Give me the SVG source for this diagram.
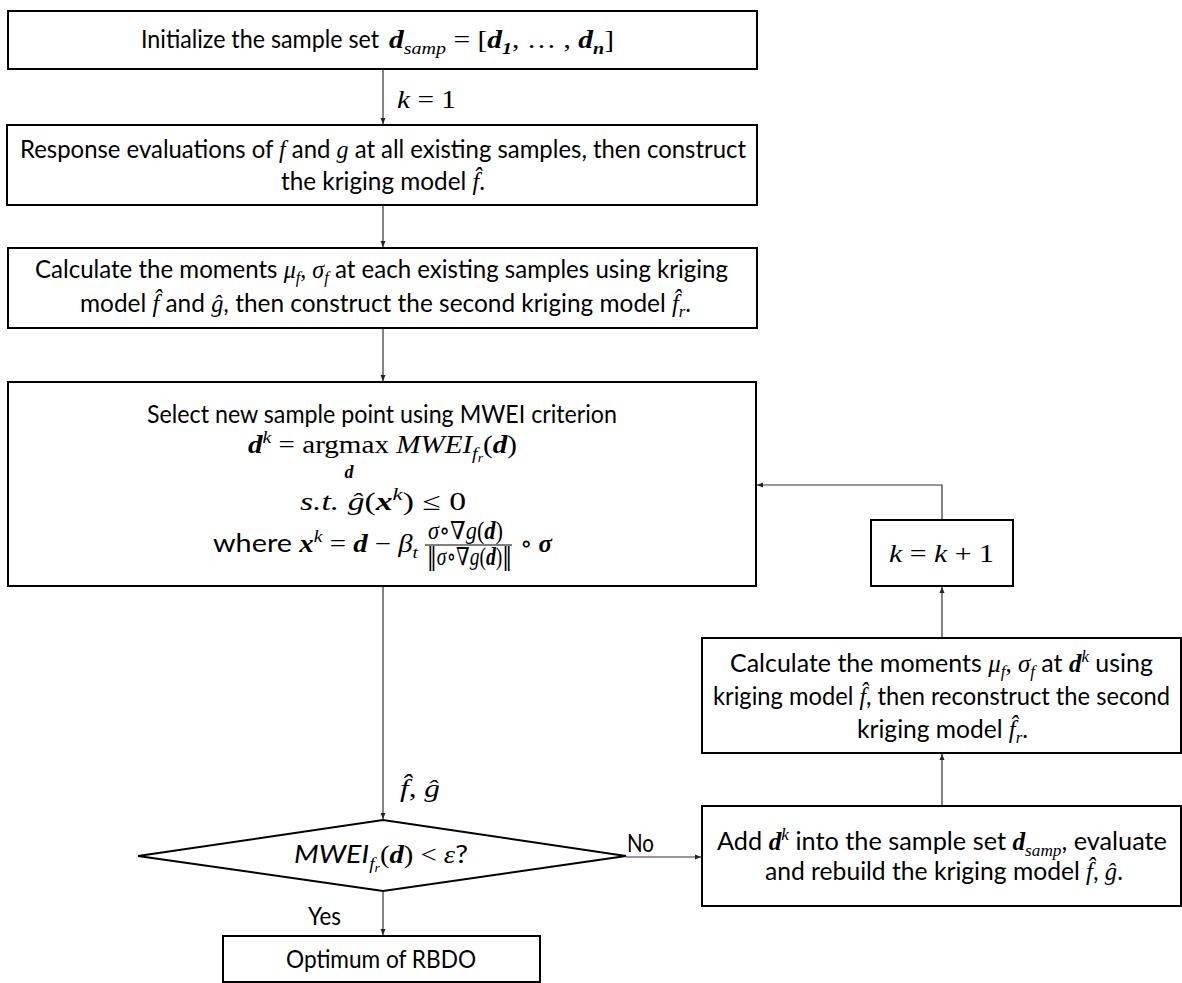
<svg xmlns="http://www.w3.org/2000/svg" width="1182" height="983" viewBox="0 0 1182 983">
<style>
.box{fill:#fff;stroke:#000;stroke-width:2}
.c{fill:none;stroke:#333;stroke-width:1.2}
.t{font-family:Lato,'Open Sans',sans-serif;font-size:25px;fill:#000}
.m{font-family:'Liberation Serif','DejaVu Serif',serif;font-style:italic}
.mb{font-family:'Liberation Serif','DejaVu Serif',serif;font-style:italic;font-weight:bold}
.mr{font-family:'Liberation Serif','DejaVu Serif',serif;font-style:normal}
.nb{font-family:'DejaVu Sans',sans-serif;font-style:normal}
.s{font-size:17px}
.ss{font-size:12px}
</style>
<defs>
<marker id="ah" markerWidth="8" markerHeight="8" refX="6" refY="4" orient="auto" markerUnits="userSpaceOnUse">
<path d="M0,1.5 L6,4 L0,6.5 Z" fill="#222"/>
</marker>
</defs>
<rect width="1182" height="983" fill="#fff"/>

<g id="connectors">
<line class="c" x1="383" y1="70" x2="383" y2="124" marker-end="url(#ah)"/>
<line class="c" x1="383" y1="206" x2="383" y2="247" marker-end="url(#ah)"/>
<line class="c" x1="383" y1="329" x2="383" y2="381" marker-end="url(#ah)"/>
<line class="c" x1="383" y1="587" x2="383" y2="819" marker-end="url(#ah)"/>
<line class="c" x1="383" y1="892" x2="383" y2="935" marker-end="url(#ah)"/>
<line class="c" x1="626" y1="857" x2="701" y2="857" marker-end="url(#ah)"/>
<line class="c" x1="942" y1="805" x2="942" y2="754" marker-end="url(#ah)"/>
<line class="c" x1="942" y1="637" x2="942" y2="587" marker-end="url(#ah)"/>
<polyline class="c" points="942,519 942,485 757,485" marker-end="url(#ah)"/>
<text class="t" x="397" y="108" textLength="59" lengthAdjust="spacingAndGlyphs"><tspan class="m">k</tspan><tspan class="mr"> = 1</tspan></text>
<text class="t" x="400" y="797" textLength="40" lengthAdjust="spacingAndGlyphs"><tspan class="m">f̂</tspan><tspan class="mr">, </tspan><tspan class="m">ĝ</tspan></text>
<text class="t" x="308" y="925" textLength="33" lengthAdjust="spacingAndGlyphs">Yes</text>
<text class="t" x="627" y="852" textLength="27" lengthAdjust="spacingAndGlyphs">No</text>
</g>

<g id="init">
<rect class="box" x="8" y="11" width="749" height="58"/>
<text class="t" x="141" y="48" textLength="238" lengthAdjust="spacingAndGlyphs">Initialize the sample set</text>
<text class="t" x="389" y="48" textLength="225" lengthAdjust="spacingAndGlyphs"><tspan class="mb">d</tspan><tspan class="m s" dy="6">samp</tspan><tspan class="mr" dy="-6"> = [</tspan><tspan class="mb">d</tspan><tspan class="mb s" dy="6">1</tspan><tspan class="mr" dy="-6">, … , </tspan><tspan class="mb">d</tspan><tspan class="mb s" dy="6">n</tspan><tspan class="mr" dy="-6">]</tspan></text>
</g>

<g id="response">
<rect class="box" x="7" y="125" width="750" height="80"/>
<text class="t" x="20" y="158" textLength="726" lengthAdjust="spacingAndGlyphs">Response evaluations of <tspan class="m">f</tspan> and <tspan class="m">g</tspan> at all existing samples, then construct</text>
<text class="t" x="281" y="190" textLength="204" lengthAdjust="spacingAndGlyphs">the kriging model <tspan class="m">f̂</tspan>.</text>
</g>

<g id="moments">
<rect class="box" x="8" y="248" width="749" height="80"/>
<text class="t" x="35" y="278" textLength="693" lengthAdjust="spacingAndGlyphs">Calculate the moments <tspan class="m">μ</tspan><tspan class="m s" dy="5">f</tspan><tspan class="mr" dy="-5">, </tspan><tspan class="m">σ</tspan><tspan class="m s" dy="5">f</tspan><tspan dy="-5"> at each existing samples using kriging</tspan></text>
<text class="t" x="80" y="312" textLength="611" lengthAdjust="spacingAndGlyphs">model <tspan class="m">f̂</tspan> and <tspan class="m">ĝ</tspan>, then construct the second kriging model <tspan class="m">f̂</tspan><tspan class="m s" dy="5">r</tspan><tspan dy="-5">.</tspan></text>
</g>

<g id="select">
<rect class="box" x="8" y="382" width="748" height="204"/>
<text class="t" x="147" y="423" textLength="470" lengthAdjust="spacingAndGlyphs">Select new sample point using MWEI criterion</text>
<text class="t" x="248" y="453" textLength="269" lengthAdjust="spacingAndGlyphs"><tspan class="mb">d</tspan><tspan class="m s" dy="-10">k</tspan><tspan class="mr" dy="10"> = argmax </tspan><tspan class="m">MWEI</tspan><tspan class="m s" dy="6">f</tspan><tspan class="m ss" dy="3">r</tspan><tspan class="mr" dy="-9">(</tspan><tspan class="mb">d</tspan><tspan class="mr">)</tspan></text>
<text class="mb" x="349" y="478" font-size="18" text-anchor="middle">d</text>
<text class="t" x="300" y="510" textLength="166" lengthAdjust="spacingAndGlyphs"><tspan class="m">s.t.</tspan><tspan class="mr">  </tspan><tspan class="m">ĝ</tspan><tspan class="mr">(</tspan><tspan class="mb">x</tspan><tspan class="m s" dy="-10">k</tspan><tspan class="mr" dy="10">) ≤ 0</tspan></text>
<text class="t" x="213" y="552" textLength="205" lengthAdjust="spacingAndGlyphs">where <tspan class="mb">x</tspan><tspan class="m s" dy="-10">k</tspan><tspan class="mr" dy="10"> = </tspan><tspan class="mb">d</tspan><tspan class="mr"> − </tspan><tspan class="m">β</tspan><tspan class="m s" dy="6">t</tspan></text>
<text class="t" x="428" y="539" font-size="16" textLength="75" lengthAdjust="spacingAndGlyphs"><tspan class="m">σ</tspan><tspan class="mr">∘∇</tspan><tspan class="m">g</tspan><tspan class="mr">(</tspan><tspan class="mb">d</tspan><tspan class="mr">)</tspan></text>
<line x1="425" y1="545" x2="512" y2="545" stroke="#000" stroke-width="1"/>
<text class="t" x="427" y="565" font-size="16" textLength="85" lengthAdjust="spacingAndGlyphs"><tspan class="nb">‖</tspan><tspan class="m">σ</tspan><tspan class="mr">∘∇</tspan><tspan class="m">g</tspan><tspan class="mr">(</tspan><tspan class="mb">d</tspan><tspan class="mr">)</tspan><tspan class="nb">‖</tspan></text>
<text class="t" x="520" y="552" textLength="32" lengthAdjust="spacingAndGlyphs"><tspan class="mr">∘ </tspan><tspan class="mb">σ</tspan></text>
</g>

<g id="decision">
<polygon points="138,856 383,820 626,856 383,891" fill="#fff" stroke="#000" stroke-width="2"/>
<text class="t" x="294" y="863" textLength="174" lengthAdjust="spacingAndGlyphs"><tspan font-style="italic">MWEI</tspan><tspan class="m s" dy="6">f</tspan><tspan class="m ss" dy="3">r</tspan><tspan class="mr" dy="-9">(</tspan><tspan class="mb">d</tspan><tspan class="mr">) &lt; </tspan><tspan class="m">ε</tspan>?</text>
</g>

<g id="optimum">
<rect class="box" x="223" y="936" width="317" height="46"/>
<text class="t" x="286" y="968" textLength="190" lengthAdjust="spacingAndGlyphs">Optimum of RBDO</text>
</g>

<g id="increment">
<rect class="box" x="871" y="520" width="142" height="66"/>
<text class="t" x="889" y="562" textLength="105" lengthAdjust="spacingAndGlyphs"><tspan class="m">k</tspan><tspan class="mr"> = </tspan><tspan class="m">k</tspan><tspan class="mr"> + 1</tspan></text>
</g>

<g id="recalc">
<rect class="box" x="702" y="638" width="479" height="115"/>
<text class="t" x="730" y="672" textLength="423" lengthAdjust="spacingAndGlyphs">Calculate the moments <tspan class="m">μ</tspan><tspan class="m s" dy="5">f</tspan><tspan class="mr" dy="-5">, </tspan><tspan class="m">σ</tspan><tspan class="m s" dy="5">f</tspan><tspan dy="-5"> at </tspan><tspan class="mb">d</tspan><tspan class="m s" dy="-10">k</tspan><tspan dy="10"> using</tspan></text>
<text class="t" x="713" y="705" textLength="457" lengthAdjust="spacingAndGlyphs">kriging model <tspan class="m">f̂</tspan>, then reconstruct the second</text>
<text class="t" x="857" y="738" textLength="171" lengthAdjust="spacingAndGlyphs">kriging model <tspan class="m">f̂</tspan><tspan class="m s" dy="5">r</tspan><tspan dy="-5">.</tspan></text>
</g>

<g id="add">
<rect class="box" x="702" y="806" width="479" height="100"/>
<text class="t" x="717" y="850" textLength="450" lengthAdjust="spacingAndGlyphs">Add <tspan class="mb">d</tspan><tspan class="m s" dy="-10">k</tspan><tspan dy="10"> into the sample set </tspan><tspan class="mb">d</tspan><tspan class="m s" dy="6">samp</tspan><tspan dy="-6">, evaluate</tspan></text>
<text class="t" x="765" y="880" textLength="358" lengthAdjust="spacingAndGlyphs">and rebuild the kriging model <tspan class="m">f̂</tspan>, <tspan class="m">ĝ</tspan>.</text>
</g>
</svg>
